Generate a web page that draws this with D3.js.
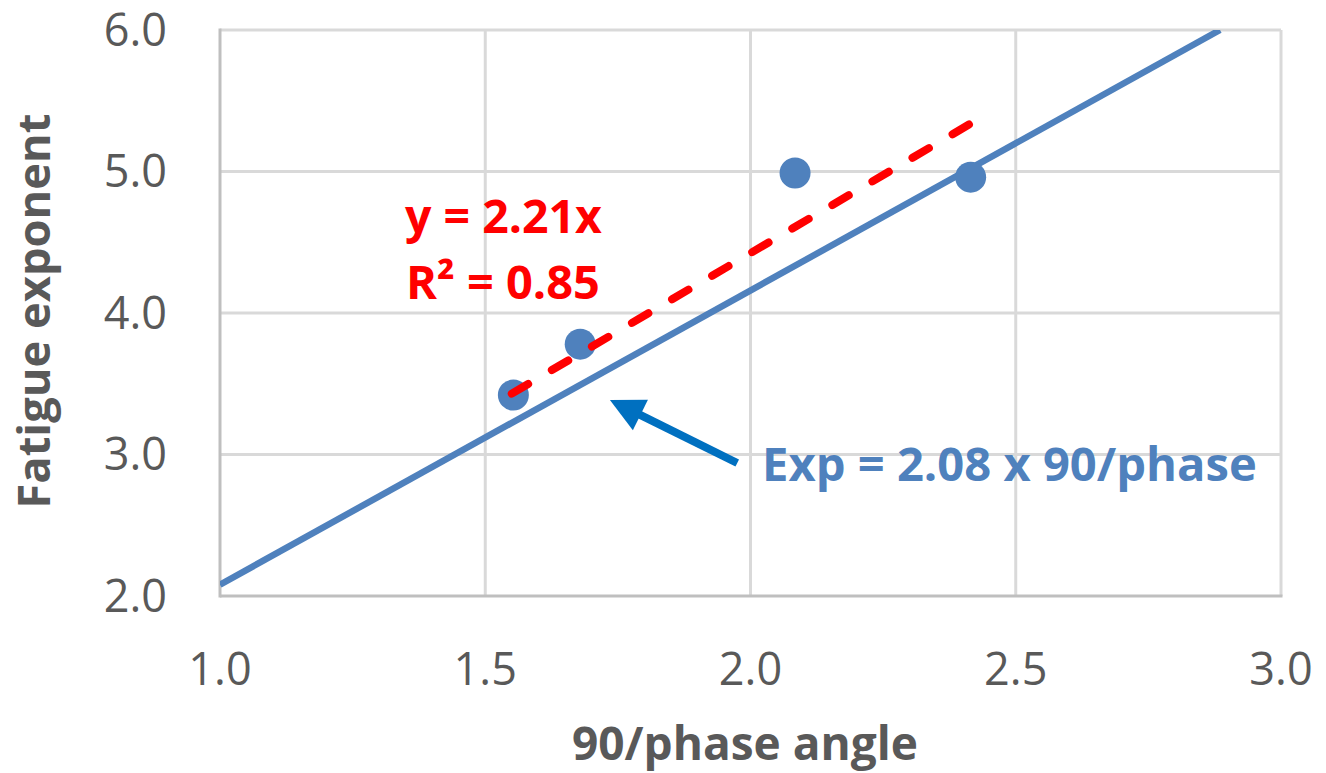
<!DOCTYPE html>
<html>
<head>
<meta charset="utf-8">
<script src="https://cdn.jsdelivr.net/npm/d3@7"></script>
<style>
  body { margin: 0; background: #fff; }
  svg text { font-family: "Open Sans", "Liberation Sans", sans-serif; }
</style>
</head>
<body>
<svg id="chart" width="1326" height="773"></svg>
<script>
// data
var pointX = [1.553, 1.679, 2.084, 2.415];
var pointY = [3.42, 3.78, 4.99, 4.96];
var xTicks = [1.0, 1.5, 2.0, 2.5, 3.0];
var yTicks = [2.0, 3.0, 4.0, 5.0, 6.0];
// model line Exp = 2.08 x 90/phase, endpoints at the plot edges
var modelX = [1.0, 2.885];
var modelY = [2.08, 6.0];
// linear trendline y = 2.21x over the data range
var trendX = [1.55, 2.42];
var trendY = [3.43, 5.35];
// arrow pointing at the model line
var arrowX = [1.975, 1.735];
var arrowY = [2.94, 3.385];

var svg = d3.select('#chart');
var x = d3.scaleLinear().domain([1, 3]).range([220, 1281]);
var y = d3.scaleLinear().domain([2, 6]).range([596, 30]);

var grey = '#595959';
var blue = '#4F81BD';

// gridlines
svg.append('g').selectAll('line.v')
  .data(xTicks.slice(1))
  .join('line')
  .attr('x1', d => x(d)).attr('x2', d => x(d))
  .attr('y1', y(6)).attr('y2', y(2))
  .attr('stroke', '#D9D9D9').attr('stroke-width', 3);
svg.append('g').selectAll('line.h')
  .data(yTicks.slice(1))
  .join('line')
  .attr('x1', x(1)).attr('x2', x(3))
  .attr('y1', d => y(d)).attr('y2', d => y(d))
  .attr('stroke', '#D9D9D9').attr('stroke-width', 3);

// axis lines
svg.append('line')
  .attr('x1', x(1)).attr('x2', x(1)).attr('y1', y(6) - 1.5).attr('y2', y(2) + 1.5)
  .attr('stroke', '#BFBFBF').attr('stroke-width', 3);
svg.append('line')
  .attr('x1', x(1)).attr('x2', x(3) + 1.5).attr('y1', y(2)).attr('y2', y(2))
  .attr('stroke', '#BFBFBF').attr('stroke-width', 3);

// tick labels
svg.append('g').selectAll('text')
  .data(yTicks)
  .join('text')
  .attr('x', 167).attr('y', d => y(d))
  .attr('dy', '0.35em')
  .attr('text-anchor', 'end')
  .attr('font-size', 45)
  .attr('fill', grey)
  .text(d => d3.format('.1f')(d));
svg.append('g').selectAll('text')
  .data(xTicks)
  .join('text')
  .attr('x', d => x(d)).attr('y', 685)
  .attr('text-anchor', 'middle')
  .attr('font-size', 45)
  .attr('fill', grey)
  .text(d => d3.format('.1f')(d));

// fit a text element to a target width by scaling its font size
function fitWidth(t, w) {
  var fs = +t.attr('font-size');
  var len = t.node().getComputedTextLength();
  t.attr('font-size', fs * w / len);
}

// axis titles
var xt = svg.append('text')
  .attr('x', 745).attr('y', 760)
  .attr('text-anchor', 'middle')
  .attr('font-size', 40).attr('font-weight', 'bold')
  .attr('fill', grey)
  .text('90/phase angle');
fitWidth(xt, 346);
var yt = svg.append('text')
  .attr('transform', 'translate(50,311) rotate(-90)')
  .attr('text-anchor', 'middle')
  .attr('font-size', 40).attr('font-weight', 'bold')
  .attr('fill', grey)
  .text('Fatigue exponent');
fitWidth(yt, 395);

// clip to plot area
svg.append('clipPath').attr('id', 'plot')
  .append('rect').attr('x', x(1)).attr('y', y(6)).attr('width', x(3) - x(1)).attr('height', y(2) - y(6));

var line = d3.line().x(d => x(d[0])).y(d => y(d[1]));

// model line
svg.append('path')
  .datum(d3.zip(modelX, modelY))
  .attr('clip-path', 'url(#plot)')
  .attr('d', line)
  .attr('fill', 'none')
  .attr('stroke', blue)
  .attr('stroke-width', 6.5);

// points
svg.append('g').selectAll('circle')
  .data(d3.zip(pointX, pointY))
  .join('circle')
  .attr('cx', d => x(d[0])).attr('cy', d => y(d[1]))
  .attr('r', 15.5)
  .attr('fill', blue);

// trendline
svg.append('path')
  .datum(d3.zip(trendX, trendY))
  .attr('d', line)
  .attr('fill', 'none')
  .attr('stroke', '#FF0000')
  .attr('stroke-width', 8)
  .attr('stroke-linecap', 'round')
  .attr('stroke-dasharray', '19,27.5');

// arrow
var ax0 = x(arrowX[0]), ay0 = y(arrowY[0]), ax1 = x(arrowX[1]), ay1 = y(arrowY[1]);
var ang = Math.atan2(ay1 - ay0, ax1 - ax0);
var headLen = 34, headHalf = 17;
var bx = ax1 - headLen * Math.cos(ang), by = ay1 - headLen * Math.sin(ang);
svg.append('line')
  .attr('x1', ax0).attr('y1', ay0).attr('x2', bx + 2 * Math.cos(ang)).attr('y2', by + 2 * Math.sin(ang))
  .attr('stroke', '#0070C0').attr('stroke-width', 8);
svg.append('path')
  .attr('d', 'M' + ax1 + ',' + ay1 +
    'L' + (bx - headHalf * Math.sin(ang)) + ',' + (by + headHalf * Math.cos(ang)) +
    'L' + (bx + headHalf * Math.sin(ang)) + ',' + (by - headHalf * Math.cos(ang)) + 'Z')
  .attr('fill', '#0070C0');

// annotations
var a1 = svg.append('text')
  .attr('x', 405).attr('y', 233)
  .attr('font-size', 44).attr('font-weight', 'bold').attr('fill', '#FF0000')
  .text('y = 2.21x');
fitWidth(a1, 197);
var a2 = svg.append('text')
  .attr('x', 406).attr('y', 299)
  .attr('font-size', 44).attr('font-weight', 'bold').attr('fill', '#FF0000')
  .text('R² = 0.85');
fitWidth(a2, 194);
var a3 = svg.append('text')
  .attr('x', 762).attr('y', 481)
  .attr('font-size', 44).attr('font-weight', 'bold').attr('fill', blue)
  .text('Exp = 2.08 x 90/phase');
fitWidth(a3, 495);
</script>
</body>
</html>
